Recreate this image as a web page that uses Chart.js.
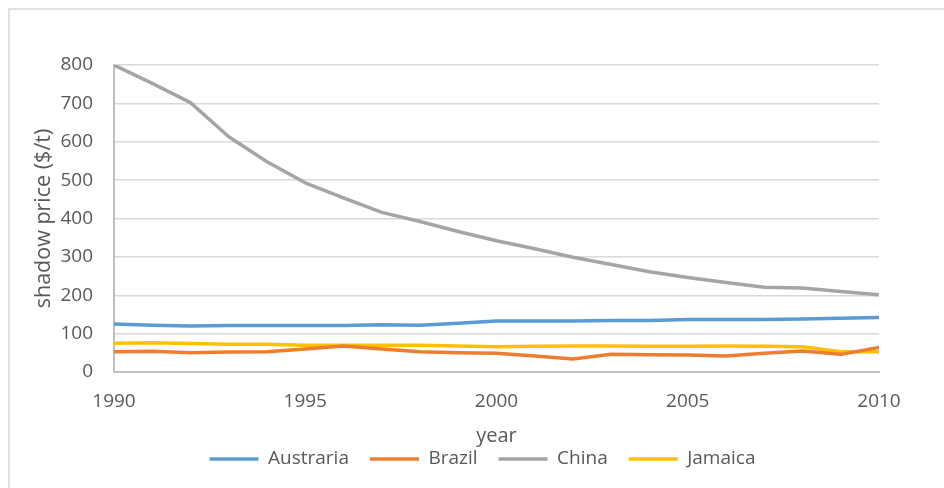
<!DOCTYPE html>
<html>
<head>
<meta charset="utf-8">
<script src="https://cdn.jsdelivr.net/npm/chart.js@4/dist/chart.umd.min.js"></script>
<style>
  html, body { margin: 0; padding: 0; background: #ffffff; overflow: hidden; }
  #wrap { width: 944px; height: 488px; overflow: hidden; }
  canvas { display: block; }
</style>
</head>
<body>
<div id="wrap"><canvas id="chart" width="965" height="488"></canvas></div>
<script>
// Shadow price per country, 1990–2010 ($/t)
const years    = [1990, 1991, 1992, 1993, 1994, 1995, 1996, 1997, 1998, 1999, 2000,
                  2001, 2002, 2003, 2004, 2005, 2006, 2007, 2008, 2009, 2010];
const austraria = [125, 122, 120, 121, 121, 121, 121, 123, 122, 127, 133,
                   133, 133, 134, 134, 137, 137, 137, 138, 140, 142];
const brazil    = [53, 54, 50, 52, 53, 60, 68, 60, 53, 50, 49,
                   42, 34, 46, 45, 44, 42, 49, 55, 46, 64];
const china     = [800, 752, 702, 613, 548, 493, 454, 416, 392, 366, 342,
                   321, 299, 280, 261, 246, 233, 221, 219, 210, 201];
const jamaica   = [75, 76, 74, 72, 72, 70, 70, 70, 70, 68, 66,
                   67, 68, 68, 67, 67, 68, 67, 66, 53, 53];
const seriesNames = ['Austraria', 'Brazil', 'China', 'Jamaica'];
const xTickStep = 5;
const yTickStep = 100;

const TEXT = '#595959';
Chart.defaults.font.family = "'Open Sans', 'Noto Sans', sans-serif";
Chart.defaults.color = TEXT;

const toPoints = vals => vals.map((v, i) => ({ x: years[i], y: v }));

function series(label, vals, color) {
  return {
    label,
    data: toPoints(vals),
    borderColor: color,
    backgroundColor: color,
    borderWidth: 3.5,
    borderCapStyle: 'round',
    borderJoinStyle: 'round',
    pointRadius: 0,
    pointHoverRadius: 0,
    tension: 0,
    yAxisID: 'y'
  };
}

// Thin frame around the chart object
const frame = {
  id: 'frame',
  beforeDraw(chart) {
    const { ctx, width, height } = chart;
    ctx.save();
    ctx.strokeStyle = '#d9d9d9';
    ctx.lineWidth = 1.5;
    ctx.beginPath();
    ctx.moveTo(9, height);
    ctx.lineTo(9, 9);
    ctx.lineTo(width, 9);
    ctx.stroke();
    ctx.restore();
  }
};

new Chart(document.getElementById('chart'), {
  type: 'line',
  data: {
    datasets: [
      series(seriesNames[0], austraria, '#5B9BD5'),
      series(seriesNames[1], brazil, '#ED7D31'),
      series(seriesNames[2], china, '#A5A5A5'),
      series(seriesNames[3], jamaica, '#FFC000')
    ]
  },
  options: {
    responsive: false,
    animation: false,
    layout: { padding: { left: 0, right: 0, top: 65, bottom: 9.5 } },
    plugins: {
      tooltip: { enabled: false },
      legend: {
        position: 'bottom',
        labels: {
          usePointStyle: true,
          pointStyle: 'line',
          pointStyleWidth: 49,
          padding: 21,
          color: TEXT,
          font: { size: 19 }
        }
      }
    },
    scales: {
      x: {
        type: 'linear',
        min: years[0],
        max: years[years.length - 1],
        ticks: {
          stepSize: xTickStep,
          padding: 18,
          color: TEXT,
          font: { size: 19 },
          callback: v => String(v)
        },
        grid: { display: false, drawTicks: false },
        border: { color: '#bfbfbf', width: 2 },
        title: {
          display: true,
          text: 'year',
          color: TEXT,
          font: { size: 20 },
          padding: { top: 0, bottom: -19.5 }
        },
        afterFit: s => { s.height = 56.5; }
      },
      y: {
        min: 0,
        max: 800,
        ticks: { stepSize: yTickStep, padding: 21, color: TEXT, font: { size: 19 } },
        grid: { color: '#d9d9d9', lineWidth: 1.5, drawTicks: false },
        border: { color: '#bfbfbf', width: 2 },
        title: {
          display: true,
          text: 'shadow price ($/t)',
          color: TEXT,
          font: { size: 21.5 },
          padding: { top: 31, bottom: 0 }
        },
        afterFit: s => { s.width = 114; }
      },
      yRight: {
        position: 'right',
        display: true,
        ticks: { display: false },
        grid: { display: false, drawTicks: false },
        border: { display: false },
        afterFit: s => { s.width = 86; }
      }
    }
  },
  plugins: [frame]
});
</script>
</body>
</html>
